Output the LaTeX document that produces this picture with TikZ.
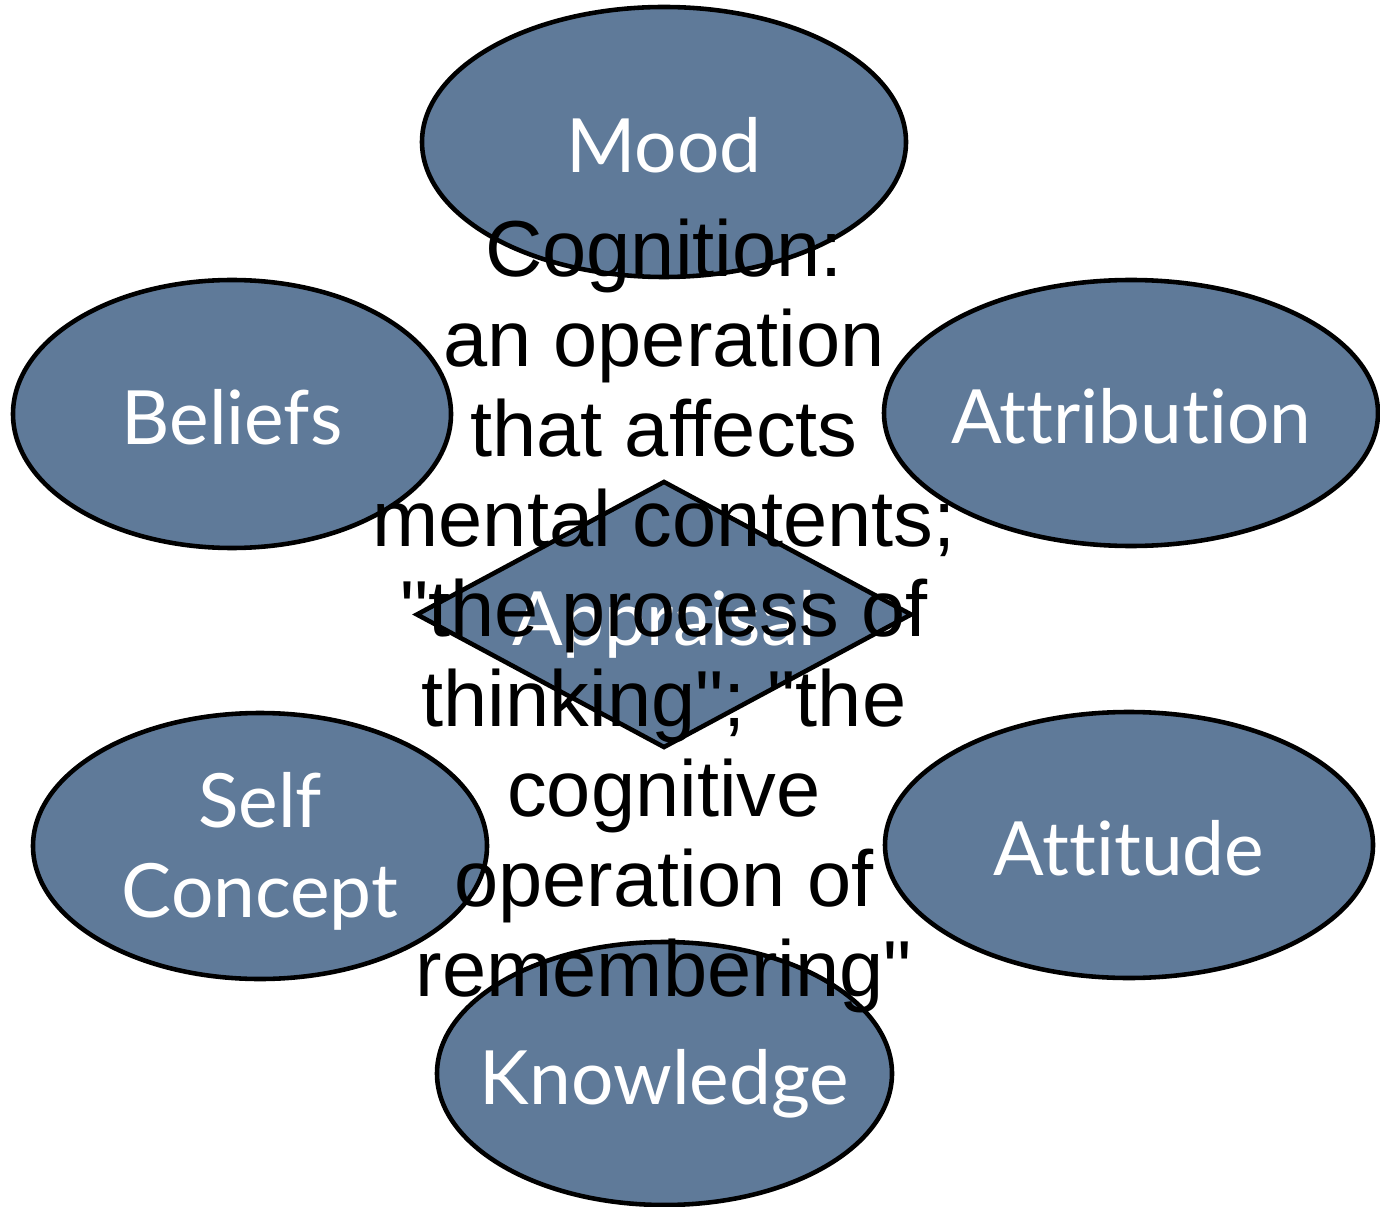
\documentclass[tikz,border=0pt]{standalone}
\usepackage{fontspec}
\setmainfont{Liberation Sans}[Ligatures={TeXOff,CommonOff}]
\newfontfamily\labelfont{Lato}[Ligatures=CommonOff]
\usetikzlibrary{shapes.geometric}
\definecolor{slate}{RGB}{95,122,153}
\begin{document}
\begin{tikzpicture}[
  blob/.style={ellipse, draw=black, line width=1.3pt, fill=slate, inner sep=0pt},
  oneline/.style={text height=17.4pt, text depth=0pt},
  rhomb/.style={diamond, draw=black, line width=1.3pt, fill=slate, inner sep=0pt},
  wlabel/.style={text=white, font=\labelfont\fontsize{21.3}{25.6}\selectfont, inner sep=0pt, align=center},
  deftext/.style={text=black, align=center, inner sep=0pt,
    font=\fontsize{22.6}{25.6}\selectfont}
]
\useasboundingbox[fill=white] (0,0) rectangle (13.8,-12.07);

\node[blob, minimum width=4.84cm, minimum height=2.70cm,
  label={[name=moodlabel, wlabel, oneline]center:Mood}] (mood) at (6.64,-1.42) {};
\node[blob, minimum width=4.38cm, minimum height=2.68cm,
  label={[name=beliefslabel, wlabel, oneline]center:Beliefs}] (beliefs) at (2.32,-4.14) {};
\node[blob, minimum width=4.94cm, minimum height=2.66cm,
  label={[name=attributionlabel, wlabel, oneline]center:Attribution}] (attribution) at (11.31,-4.13) {};
\node[blob, minimum width=4.54cm, minimum height=2.66cm,
  label={[name=selflabel, wlabel, yshift=-0.05cm]center:Self\\Concept}] (self) at (2.60,-8.46) {};
\node[blob, minimum width=4.88cm, minimum height=2.66cm,
  label={[name=attitudelabel, wlabel, oneline]center:Attitude}] (attitude) at (11.29,-8.45) {};
\node[blob, minimum width=4.55cm, minimum height=2.63cm,
  label={[name=knowledgelabel, wlabel, oneline]center:Knowledge}] (knowledge) at (6.645,-10.735) {};

\node[rhomb, minimum width=4.96cm, minimum height=2.67cm,
  label={[name=appraisallabel, wlabel, oneline]center:Appraisal}] (appraisal) at (6.64,-6.145) {};

\node[deftext] (cognition) at (6.64,-6.16) {Cognition:\\an operation\\that affects\\mental contents;\\"the process of\\thinking"; "the\\cognitive\\operation of\\remembering"};
\end{tikzpicture}
\end{document}
